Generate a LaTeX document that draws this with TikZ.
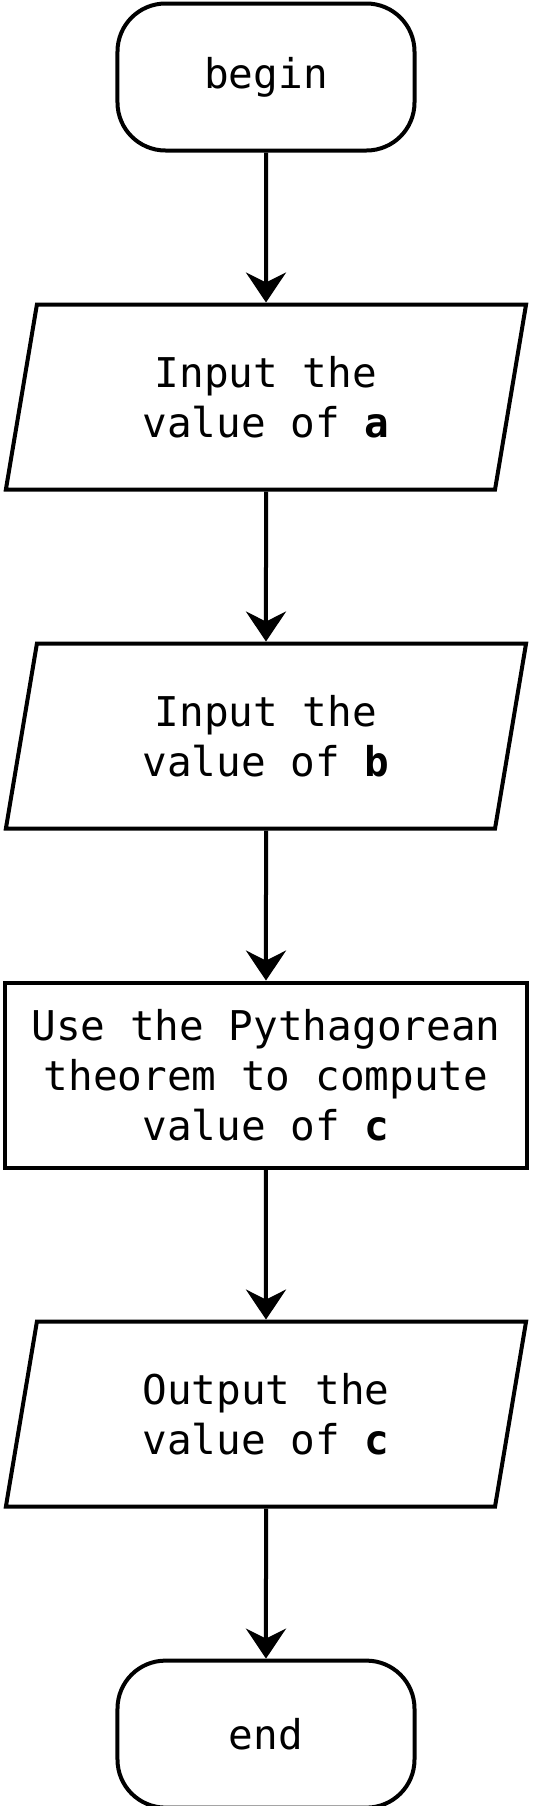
\documentclass[tikz,border=0pt]{standalone}
\usepackage{fontspec}
\setmonofont{DejaVu Sans Mono}
\usetikzlibrary{positioning,shapes.geometric,arrows.meta}

\begin{document}
\begin{tikzpicture}
[
>={Stealth[length=15pt,width=20pt,inset=5pt]},
every node/.style = {font=\fontsize{20.5pt}{25pt}\selectfont\ttfamily, align=center},
terminal/.style = {draw, line width=2pt, rectangle, rounded corners=24pt, minimum width=148.5pt, minimum height=73.5pt},
io/.style = {draw, line width=2pt, trapezium, trapezium left angle=79.5, trapezium right angle=100.5, trapezium stretches=true, minimum width=260.5pt, minimum height=92.5pt},
process/.style = {draw, line width=2pt, rectangle, minimum width=260.5pt, minimum height=92.5pt},
flow/.style = {->, line width=2pt},
]

\useasboundingbox (-133pt,38.5pt) rectangle (133pt,-864.5pt);

\node (begin) [terminal] {begin};
\node (inA) [io, below = 75pt of begin] {Input the\\value of \textbf{a}};
\node (inB) [io, below = 75pt of inA] {Input the\\value of \textbf{b}};
\node (calcC) [process, below = 75pt of inB] {Use the Pythagorean\\theorem to compute\\value of \textbf{c}};
\node (outC) [io, below = 75pt of calcC] {Output the\\value of \textbf{c}};
\node (end) [terminal, below = 75pt of outC] {end};

\draw[flow] (begin) -- (inA);
\draw[flow] (inA) -- (inB);
\draw[flow] (inB) -- (calcC);
\draw[flow] (calcC) -- (outC);
\draw[flow] (outC) -- (end);
\end{tikzpicture}
\end{document}
